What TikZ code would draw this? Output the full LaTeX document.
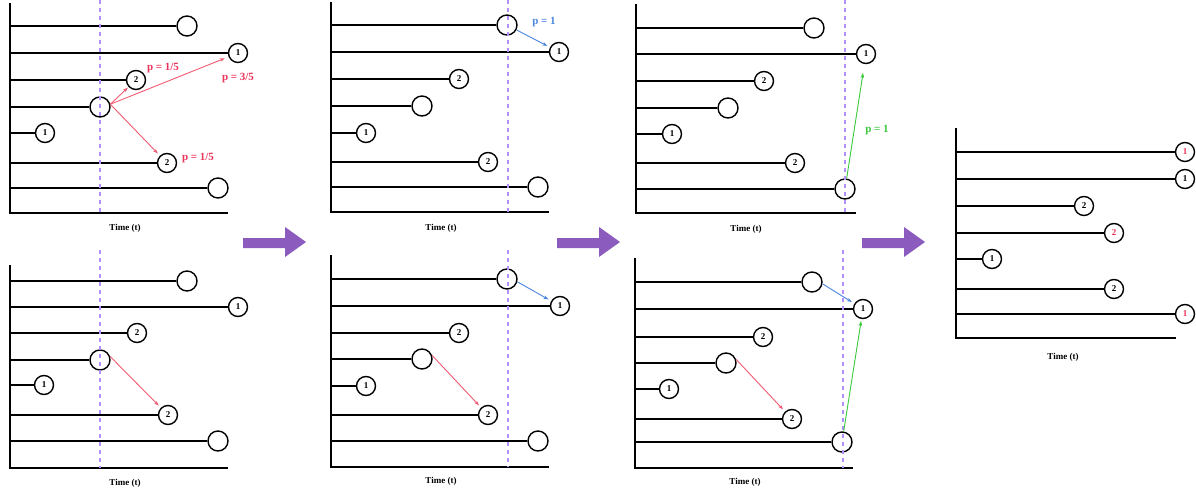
\documentclass[tikz,border=0pt]{standalone}
\usepackage{fontspec}
\setmainfont{Liberation Serif}
\usetikzlibrary{arrows.meta}
\definecolor{pred}{RGB}{242,90,115}
\definecolor{plab}{RGB}{236,52,90}
\definecolor{pblue}{RGB}{74,134,224}
\definecolor{pgreen}{RGB}{58,200,60}
\definecolor{pdash}{RGB}{178,142,255}
\definecolor{parrow}{RGB}{139,92,190}
\tikzset{
  axisline/.style={line width=2.4pt, line join=miter},
  hline/.style={line width=1.7pt},
  endc/.style={circle, draw, line width=1.4pt, minimum size=20pt, inner sep=0pt},
  numc/.style={circle, draw, line width=1.4pt, minimum size=19pt, inner sep=0pt, font=\bfseries\fontsize{9}{9}\selectfont},
  rnum/.style={numc, text=plab},
  tlabel/.style={font=\bfseries\fontsize{9}{9}\selectfont},
  plabel/.style={font=\bfseries\fontsize{11}{11}\selectfont, inner sep=1pt},
  dashv/.style={pdash, line width=1.8pt, dash pattern=on 4pt off 4pt},
  movearr/.style={line width=0.9pt, -{Stealth[length=5pt,width=3.6pt]}},
  redarr/.style={movearr, pred},
  bluearr/.style={movearr, pblue},
  greenarr/.style={movearr, pgreen},
  bigarr/.style={fill=parrow},
}
\newcommand\myrow[6]{\coordinate (#1s) at (#2,#3); \node[#5] (#1) at (#4,#3) {#6}; \draw[hline] (#1s) -- (#1);}
\newcommand\myaxes[5]{\coordinate (#1top) at (#2,#3); \coordinate (#1o) at (#2,#4); \coordinate (#1r) at (#5,#4); \draw[axisline] (#1top) -- (#1o) -- (#1r);}
\newcommand\mydash[4]{\coordinate (#1da) at (#2,#3); \coordinate (#1db) at (#2,#4); \draw[dashv] (#1da) -- (#1db);}
\newcommand\mybig[1]{\fill[bigarr] (#1+243,238) -- (#1+285,238) -- (#1+285,227) -- (#1+306,242) -- (#1+285,257) -- (#1+285,248) -- (#1+243,248) -- cycle;}
\begin{document}
\begin{tikzpicture}[x=1pt,y=-1pt]
\useasboundingbox (0,0) rectangle (1196,492);
\fill[white] (0,0) rectangle (1196,492);

% ---------- Panel 1 top ----------
\myaxes{pa}{10}{3}{213}{228}
\myrow{pa1}{10}{26}{187}{endc}{}
\myrow{pa2}{10}{53}{238}{numc}{1}
\myrow{pa3}{10}{80}{136}{numc}{2}
\myrow{pa4}{10}{107}{100}{endc}{}
\myrow{pa5}{10}{133}{45}{numc}{1}
\myrow{pa6}{10}{163}{167}{numc}{2}
\myrow{pa7}{10}{188}{218}{endc}{}
\mydash{pa}{100}{0}{213}
\node[tlabel] (pat) at (125,228) {Time (t)};
\draw[redarr, shorten >=1pt] (pa4.15) -- (pa3);
\draw[redarr, shorten >=4pt] (pa4.15) -- (pa2);
\draw[redarr, shorten >=3pt] (pa4.15) -- (pa6);
\node[plabel, text=plab] (pal1) at (163,68) {p = 1/5};
\node[plabel, text=plab] (pal2) at (238,78) {p = 3/5};
\node[plabel, text=plab] (pal3) at (198,158) {p = 1/5};

% ---------- Panel 1 bottom ----------
\myaxes{pb}{10}{265}{468}{228}
\myrow{pb1}{10}{281}{187}{endc}{}
\myrow{pb2}{10}{307}{238}{numc}{1}
\myrow{pb3}{10}{333}{137}{numc}{2}
\myrow{pb4}{10}{360}{100}{endc}{}
\myrow{pb5}{10}{385}{44}{numc}{1}
\myrow{pb6}{10}{415}{168}{numc}{2}
\myrow{pb7}{10}{441}{218}{endc}{}
\mydash{pb}{100}{250}{468}
\node[tlabel] (pbt) at (125,483) {Time (t)};
\draw[redarr, shorten >=3pt] (pb4.20) -- (pb6);

% ---------- Panel 2 top ----------
\myaxes{pc}{331}{2}{212}{549}
\myrow{pc1}{331}{25}{507}{endc}{}
\myrow{pc2}{331}{52}{559}{numc}{1}
\myrow{pc3}{331}{79}{459}{numc}{2}
\myrow{pc4}{331}{106}{422}{endc}{}
\myrow{pc5}{331}{133}{366}{numc}{1}
\myrow{pc6}{331}{162}{488}{numc}{2}
\myrow{pc7}{331}{187}{538}{endc}{}
\mydash{pc}{508}{0}{212}
\node[tlabel] (pct) at (441,228) {Time (t)};
\draw[bluearr, shorten >=3pt] (pc1) -- (pc2);
\node[plabel, text=pblue] (pcl) at (544,22) {p = 1};

% ---------- Panel 2 bottom ----------
\myaxes{pd}{331}{255}{467}{549}
\myrow{pd1}{331}{279}{507}{endc}{}
\myrow{pd2}{331}{306}{560}{numc}{1}
\myrow{pd3}{331}{333}{459}{numc}{2}
\myrow{pd4}{331}{359}{422}{endc}{}
\myrow{pd5}{331}{386}{366}{numc}{1}
\myrow{pd6}{331}{415}{488}{numc}{2}
\myrow{pd7}{331}{441}{538}{endc}{}
\mydash{pd}{508}{250}{467}
\node[tlabel] (pdt) at (441,481) {Time (t)};
\draw[bluearr, shorten >=3pt] (pd1.-15) -- (pd2);
\draw[redarr, shorten >=3pt] (pd4.20) -- (pd6);

% ---------- Panel 3 top ----------
\myaxes{pe}{636}{4}{213}{856}
\myrow{pe1}{636}{28}{814}{endc}{}
\myrow{pe2}{636}{54}{866}{numc}{1}
\myrow{pe3}{636}{81}{764}{numc}{2}
\myrow{pe4}{636}{108}{728}{endc}{}
\myrow{pe5}{636}{134}{672}{numc}{1}
\myrow{pe6}{636}{163}{795}{numc}{2}
\myrow{pe7}{636}{189}{845}{endc}{}
\mydash{pe}{845}{0}{213}
\node[tlabel] (pet) at (746,229) {Time (t)};
\draw[greenarr, shorten >=9pt] (pe7) -- (pe2);
\node[plabel, text=pgreen] (pel) at (877,130) {p = 1};

% ---------- Panel 3 bottom ----------
\myaxes{pf}{635}{258}{468}{853}
\myrow{pf1}{635}{282}{812}{endc}{}
\myrow{pf2}{635}{309}{863}{numc}{1}
\myrow{pf3}{635}{337}{763}{numc}{2}
\myrow{pf4}{635}{363}{726}{endc}{}
\myrow{pf5}{635}{389}{669}{numc}{1}
\myrow{pf6}{635}{419}{792}{numc}{2}
\myrow{pf7}{635}{442}{842}{endc}{}
\mydash{pf}{843}{250}{468}
\node[tlabel] (pft) at (745,482) {Time (t)};
\draw[bluearr, shorten >=3pt] (pf1.-10) -- (pf2);
\draw[redarr, shorten >=3pt] (pf4.20) -- (pf6);
\draw[greenarr, shorten >=2pt] (pf7) -- (pf2);

% ---------- Final panel ----------
\myaxes{pg}{956}{128}{338}{1176}
\myrow{pg1}{956}{152}{1185}{rnum}{1}
\myrow{pg2}{956}{179}{1185}{numc}{1}
\myrow{pg3}{956}{206}{1084}{numc}{2}
\myrow{pg4}{956}{233}{1114}{rnum}{2}
\myrow{pg5}{956}{259}{992}{numc}{1}
\myrow{pg6}{956}{289}{1114}{numc}{2}
\myrow{pg7}{956}{314}{1185}{rnum}{1}
\node[tlabel] (pgt) at (1063,357) {Time (t)};

% ---------- Big arrows ----------
\mybig{0}
\mybig{314}
\mybig{619}
\end{tikzpicture}
\end{document}
